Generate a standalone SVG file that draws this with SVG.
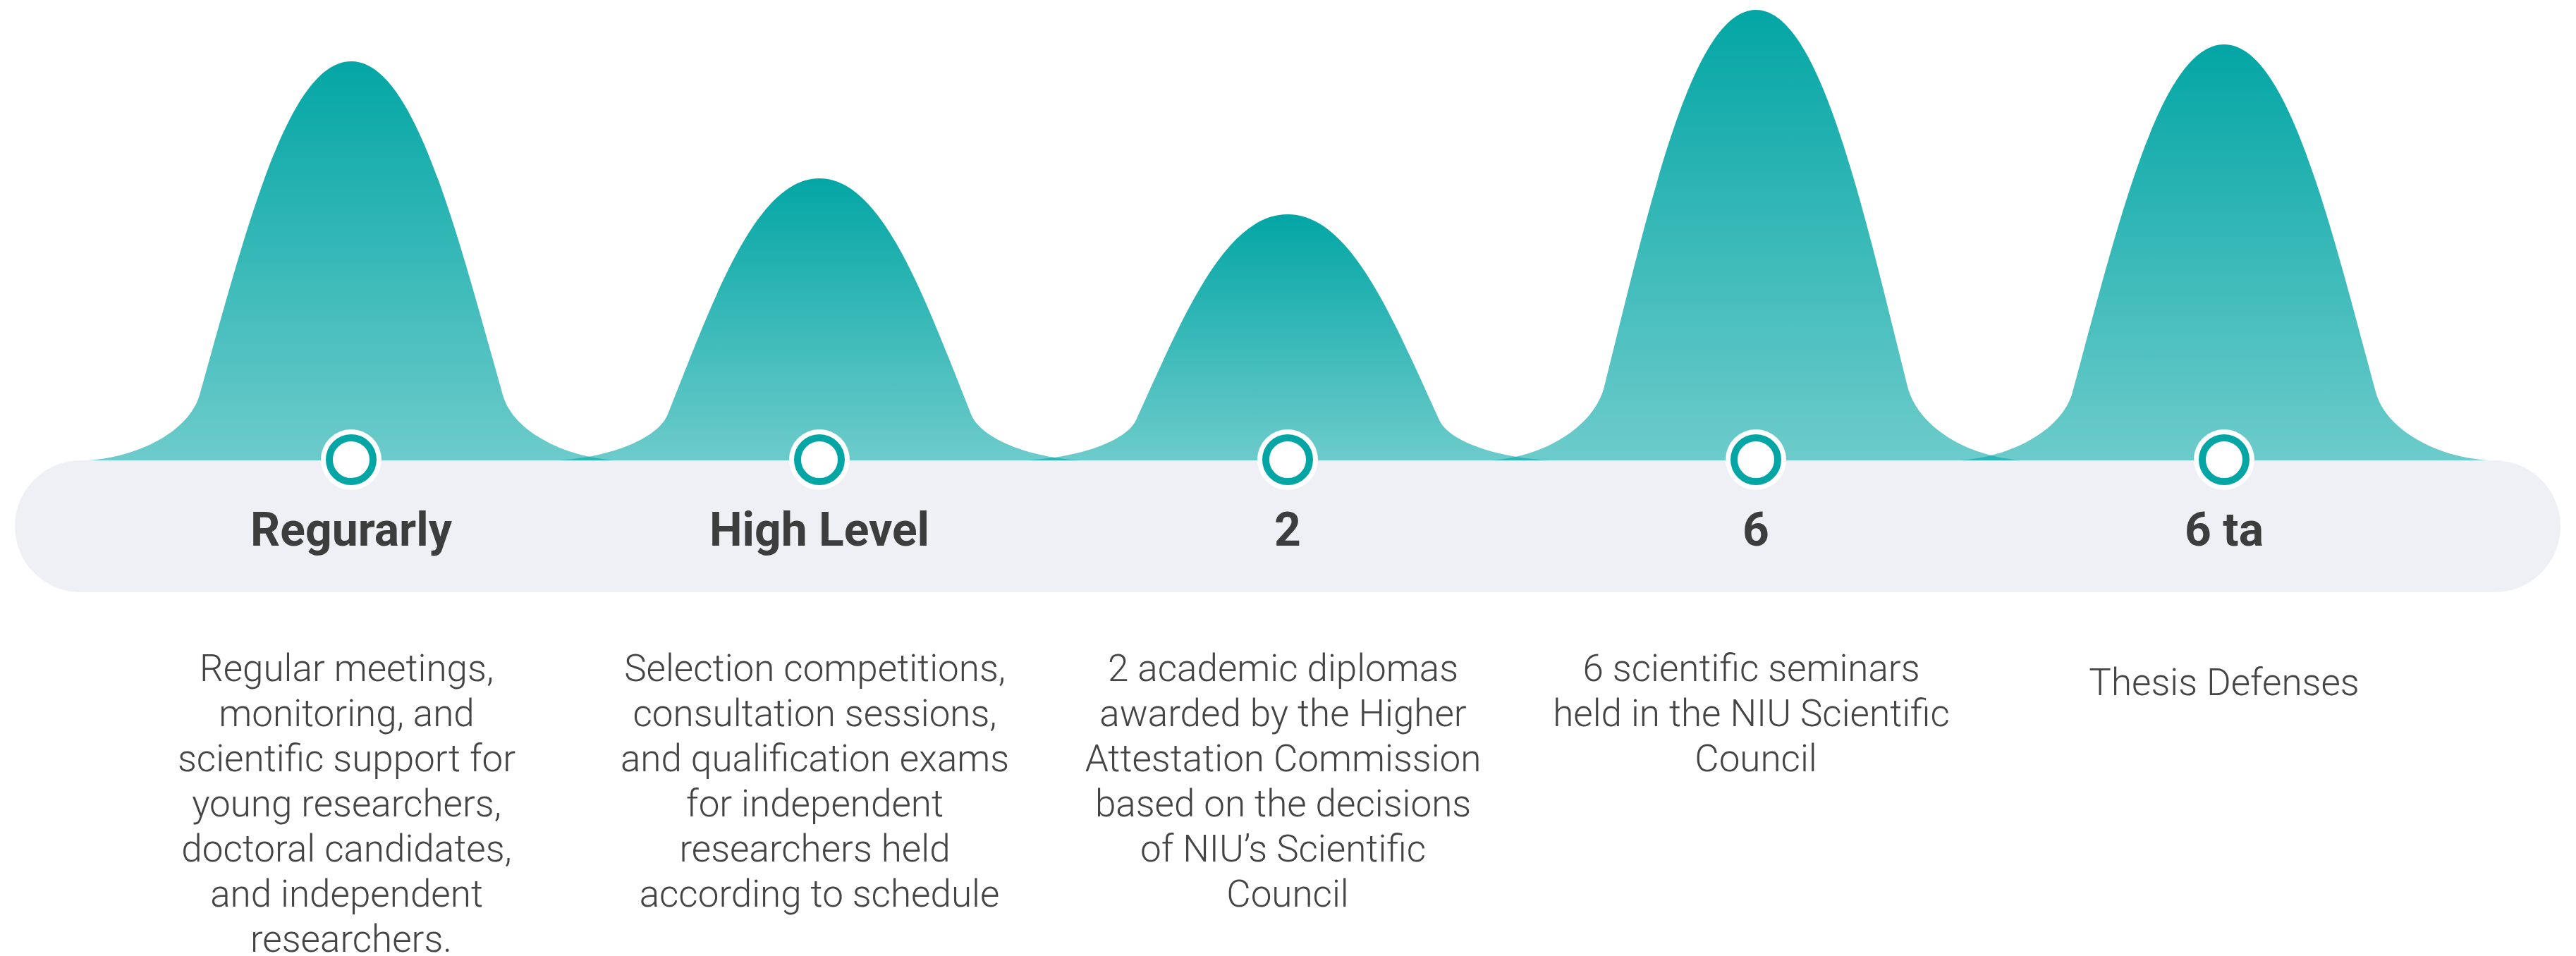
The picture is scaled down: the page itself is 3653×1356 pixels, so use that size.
<svg xmlns="http://www.w3.org/2000/svg" width="3653" height="1356" viewBox="0 0 3653 1356">
<defs>
<linearGradient id="bellGrad" x1="0" y1="0" x2="0" y2="1">
<stop offset="0" stop-color="#03a6a5" stop-opacity="1"/>
<stop offset="1" stop-color="#03a6a5" stop-opacity="0.58"/>
</linearGradient>
</defs>
<style>
.bell{fill:url(#bellGrad);}
.bar{fill:#eef0f5;}
.halo{fill:#ffffff;}
.ring{fill:#ffffff;stroke:#03a6a5;stroke-width:10;}
.label{font-family:Roboto,"Liberation Sans",sans-serif;font-weight:700;font-size:66px;fill:#3d3d3d;text-anchor:middle;}
.desc{font-family:Roboto,"Liberation Sans",sans-serif;font-weight:300;font-size:53px;fill:#444444;text-anchor:middle;}
</style>
<rect width="3653" height="1356" fill="#ffffff"/>
<g id="bells">
<path class="bell" d="M115,653.5 C198,650.2 269,610 283,560.2 C348,329.8 408,87 498,87 C588,87 648,329.8 713,560.2 C727,610 798,650.2 881,653.5 Z"/>
<path class="bell" d="M779,653.5 C862,651 933,622.6 947,587.4 C1012,424.6 1072,253 1162,253 C1252,253 1312,424.6 1377,587.4 C1391,622.6 1462,651 1545,653.5 Z"/>
<path class="bell" d="M1443,653.5 C1526,651.3 1597,626.5 1611,595.8 C1676,453.7 1736,304 1826,304 C1916,304 1976,453.7 2041,595.8 C2055,626.5 2126,651.3 2209,653.5 Z"/>
<path class="bell" d="M2107,653.5 C2190,649.8 2261,604.4 2275,548.2 C2340,288.1 2400,14 2490,14 C2580,14 2640,288.1 2705,548.2 C2719,604.4 2790,649.8 2873,653.5 Z"/>
<path class="bell" d="M2771,653.5 C2854,650 2925,608.2 2939,556.2 C3004,316.1 3064,63 3154,63 C3244,63 3304,316.1 3369,556.2 C3383,608.2 3454,650 3537,653.5 Z"/>
</g>
<rect id="timeline-bar" class="bar" x="21" y="653" width="3610" height="187" rx="93.5" ry="93.5"/>
<g id="connectors"></g>
<g id="node-1">
<circle class="halo" cx="498" cy="652" r="43"/>
<circle class="ring" cx="498" cy="652" r="31"/>
<text class="label" x="498" y="774">Regurarly</text>
<text class="desc" x="498" y="966">
<tspan x="498" dy="0">Regular meetings,</tspan>
<tspan x="498" dy="64">monitoring, and</tspan>
<tspan x="498" dy="64">scientific support for</tspan>
<tspan x="498" dy="64">young researchers,</tspan>
<tspan x="498" dy="64">doctoral candidates,</tspan>
<tspan x="498" dy="64">and independent</tspan>
<tspan x="498" dy="64">researchers.</tspan>
</text>
</g>
<g id="node-2">
<circle class="halo" cx="1162" cy="652" r="43"/>
<circle class="ring" cx="1162" cy="652" r="31"/>
<text class="label" x="1162" y="774">High Level</text>
<text class="desc" x="1162" y="966">
<tspan x="1162" dy="0">Selection competitions,</tspan>
<tspan x="1162" dy="64">consultation sessions,</tspan>
<tspan x="1162" dy="64">and qualification exams</tspan>
<tspan x="1162" dy="64">for independent</tspan>
<tspan x="1162" dy="64">researchers held</tspan>
<tspan x="1162" dy="64">according to schedule</tspan>
</text>
</g>
<g id="node-3">
<circle class="halo" cx="1826" cy="652" r="43"/>
<circle class="ring" cx="1826" cy="652" r="31"/>
<text class="label" x="1826" y="774">2</text>
<text class="desc" x="1826" y="966">
<tspan x="1826" dy="0">2 academic diplomas</tspan>
<tspan x="1826" dy="64">awarded by the Higher</tspan>
<tspan x="1826" dy="64">Attestation Commission</tspan>
<tspan x="1826" dy="64">based on the decisions</tspan>
<tspan x="1826" dy="64">of NIU’s Scientific</tspan>
<tspan x="1826" dy="64">Council</tspan>
</text>
</g>
<g id="node-4">
<circle class="halo" cx="2490" cy="652" r="43"/>
<circle class="ring" cx="2490" cy="652" r="31"/>
<text class="label" x="2490" y="774">6</text>
<text class="desc" x="2490" y="966">
<tspan x="2490" dy="0">6 scientific seminars</tspan>
<tspan x="2490" dy="64">held in the NIU Scientific</tspan>
<tspan x="2490" dy="64">Council</tspan>
</text>
</g>
<g id="node-5">
<circle class="halo" cx="3154" cy="652" r="43"/>
<circle class="ring" cx="3154" cy="652" r="31"/>
<text class="label" x="3154" y="774">6 ta</text>
<text class="desc" x="3154" y="986">Thesis Defenses</text>
</g>
</svg>
